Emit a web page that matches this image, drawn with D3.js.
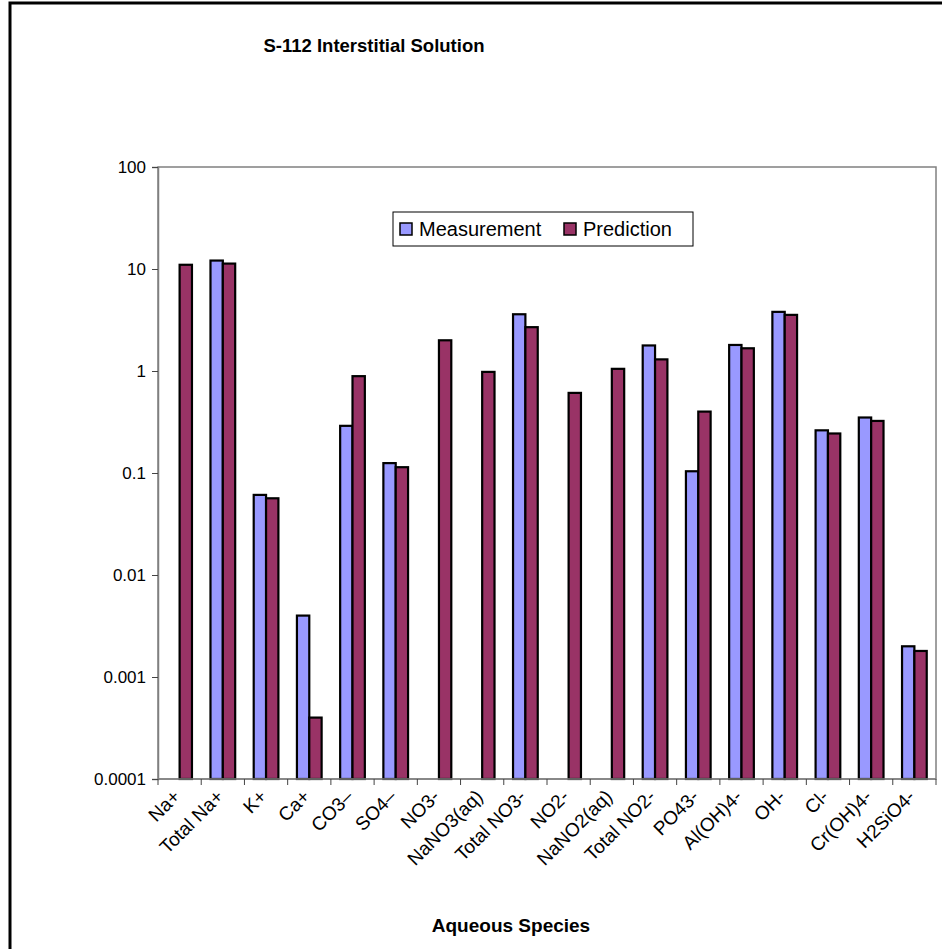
<!DOCTYPE html>
<html>
<head>
<meta charset="utf-8">
<script src="https://cdn.jsdelivr.net/npm/d3@7"></script>
<style>
  html, body { margin: 0; padding: 0; background: #fff; }
  svg { display: block; font-family: "Liberation Sans", Arial, sans-serif; }
</style>
</head>
<body>
<svg id="chart" width="942" height="949"></svg>
<script>
// Aqueous species, measured vs predicted concentrations (log scale)
const species = ["Na+", "Total Na+", "K+", "Ca+", "CO3\u2013", "SO4\u2013", "NO3-", "NaNO3(aq)",
  "Total NO3-", "NO2-", "NaNO2(aq)", "Total NO2-", "PO43-", "Al(OH)4-", "OH-", "Cl-",
  "Cr(OH)4-", "H2SiO4-"];
// null = no measurement reported
const measurement = [null, 12.1, 0.061, 0.0040, 0.29, 0.125, null, null,
  3.6, null, null, 1.78, 0.104, 1.80, 3.80, 0.262, 0.35, 0.0020];
const prediction = [11.0, 11.3, 0.0565, 0.0004, 0.89, 0.114, 2.0, 0.98,
  2.69, 0.61, 1.05, 1.30, 0.40, 1.67, 3.55, 0.244, 0.324, 0.0018];
const seriesNames = ["Measurement", "Prediction"];
const seriesColors = ["#9999FF", "#993366"];
const yTickValues = [0.0001, 0.001, 0.01, 0.1, 1, 10, 100];
const yTickLabels = ["0.0001", "0.001", "0.01", "0.1", "1", "10", "100"];

const svg = d3.select("#chart");

// outer chart frame
svg.append("rect")
  .attr("x", 10).attr("y", 3).attr("width", 1000).attr("height", 1000)
  .attr("fill", "none").attr("stroke", "#000").attr("stroke-width", 3);

const plot = { left: 158, right: 936, top: 167, bottom: 779 };

const x = d3.scaleBand().domain(species).range([plot.left, plot.right]).paddingInner(0).paddingOuter(0);
const y = d3.scaleLog().domain([0.0001, 100]).range([plot.bottom, plot.top]);

// plot area frame
svg.append("rect")
  .attr("x", plot.left).attr("y", plot.top)
  .attr("width", plot.right - plot.left).attr("height", plot.bottom - plot.top)
  .attr("fill", "#fff").attr("stroke", "#808080").attr("stroke-width", 1.5);

// bars: two per species, gap width ~150% of a bar
const barW = x.bandwidth() / 3.5;
const series = [measurement, prediction];
series.forEach((vals, si) => {
  svg.append("g").selectAll("rect")
    .data(species.map((s, i) => ({ s, v: vals[i] })).filter(d => d.v != null))
    .join("rect")
    .attr("x", d => x(d.s) + x.bandwidth() / 2 - barW + si * barW)
    .attr("y", d => y(d.v))
    .attr("width", barW)
    .attr("height", d => y(0.0001) - y(d.v))
    .attr("fill", seriesColors[si])
    .attr("stroke", "#000")
    .attr("stroke-width", 2.2);
});

// y axis
const yAxis = d3.axisLeft(y).tickValues(yTickValues)
  .tickFormat((d, i) => yTickLabels[i]).tickSizeOuter(0).tickSize(6).tickPadding(6);
const gy = svg.append("g").attr("transform", `translate(${plot.left},0)`).call(yAxis);
gy.select(".domain").attr("stroke", "#808080").attr("stroke-width", 1.5);
gy.selectAll(".tick line").attr("stroke", "#444");
gy.selectAll(".tick text").attr("font-size", 17).attr("fill", "#000")
  .attr("font-family", "Liberation Sans, Arial, sans-serif");

// x axis: ticks between categories
const bounds = d3.range(species.length + 1).map(i => plot.left + i * x.step());
const gx = svg.append("g");
gx.append("line").attr("x1", plot.left).attr("x2", plot.right)
  .attr("y1", plot.bottom).attr("y2", plot.bottom)
  .attr("stroke", "#808080").attr("stroke-width", 1.5);
gx.selectAll("line.tk").data(bounds).join("line").attr("class", "tk")
  .attr("x1", d => d).attr("x2", d => d)
  .attr("y1", plot.bottom).attr("y2", plot.bottom + 6)
  .attr("stroke", "#444");
gx.selectAll("text").data(species).join("text")
  .attr("transform", d => `translate(${x(d) + x.bandwidth() / 2 - 3},${plot.bottom + 14}) rotate(-45)`)
  .attr("text-anchor", "end")
  .attr("dy", "0.35em")
  .attr("font-size", 19)
  .text(d => d);

// title and axis title
svg.append("text").attr("x", 374).attr("y", 52).attr("text-anchor", "middle")
  .attr("font-size", 18.5).attr("font-weight", "bold").text("S-112 Interstitial Solution");
svg.append("text").attr("x", 511).attr("y", 932).attr("text-anchor", "middle")
  .attr("font-size", 19).attr("font-weight", "bold").text("Aqueous Species");

// legend
const lg = svg.append("g").attr("transform", "translate(393,212)");
lg.append("rect").attr("width", 300).attr("height", 34)
  .attr("fill", "#fff").attr("stroke", "#000").attr("stroke-width", 1);
const items = [{ n: seriesNames[0], c: seriesColors[0], x: 7 }, { n: seriesNames[1], c: seriesColors[1], x: 171 }];
items.forEach(it => {
  lg.append("rect").attr("x", it.x).attr("y", 11).attr("width", 12).attr("height", 12)
    .attr("fill", it.c).attr("stroke", "#000").attr("stroke-width", 1.5);
  lg.append("text").attr("x", it.x + 19).attr("y", 24).attr("font-size", 20).text(it.n);
});
</script>
</body>
</html>
